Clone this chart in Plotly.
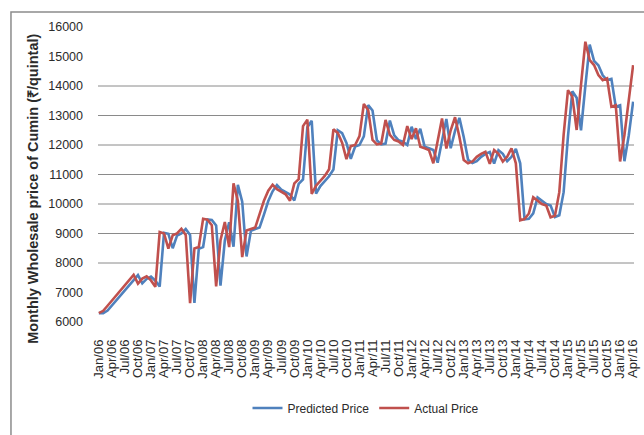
import plotly.graph_objects as go

# ---------------- data ----------------
MONTH_ABBR = ["Jan", "Feb", "Mar", "Apr", "May", "Jun",
              "Jul", "Aug", "Sep", "Oct", "Nov", "Dec"]
YEARS = list(range(6, 17))
MONTHS = [f"{m}/{y:02d}" for y in YEARS for m in MONTH_ABBR][:124]
TICK_LABELS = [lab for lab in MONTHS if lab.split("/")[0] in ("Jan", "Apr", "Jul", "Oct")]

ACTUAL_PRICE = [
    6300, 6380, 6550, 6720, 6900, 7080, 7250, 7420, 7600, 7300, 7470, 7550,        # 2006
    7410, 7190, 9050, 9000, 8490, 8940, 9000, 9160, 8950, 6640, 8490, 8540,        # 2007
    9500, 9470, 9280, 7210, 8770, 9390, 8540, 10700, 10100, 8200, 9100, 9150,      # 2008
    9200, 9660, 10110, 10450, 10650, 10500, 10400, 10330, 10110, 10700, 10840, 12640,  # 2009
    12860, 10340, 10620, 10790, 10950, 11180, 12530, 12410, 12080, 11520, 11960, 12000,  # 2010
    12300, 13390, 13190, 12170, 12020, 12050, 12850, 12340, 12170, 12120, 12000, 12640,  # 2011
    12200, 12570, 11940, 11890, 11830, 11380, 12200, 12900, 11880, 12500, 12940, 12280,  # 2012
    11490, 11380, 11440, 11600, 11700, 11770, 11360, 11830, 11700, 11440, 11600, 11890,  # 2013
    11380, 9450, 9490, 9680, 10230, 10110, 10000, 9950, 9550, 9600, 10400, 12340,  # 2014
    13860, 13640, 12510, 14040, 15500, 14880, 14710, 14370, 14200, 14260, 13300, 13350,  # 2015
    11440, 12340, 13530, 14710,                                                    # 2016
]

PREDICTED_PRICE = [
    6300, 6300, 6390, 6560, 6730, 6910, 7090, 7260, 7430, 7590, 7310, 7460,        # 2006
    7540, 7400, 7200, 9020, 8990, 8500, 8930, 9000, 9150, 8950, 6650, 8480,        # 2007
    8540, 9480, 9460, 9270, 7230, 8760, 9380, 8550, 10650, 10080, 8220, 9090,      # 2008
    9150, 9200, 9640, 10100, 10430, 10640, 10490, 10390, 10320, 10120, 10680, 10830,  # 2009
    12600, 12820, 10350, 10610, 10780, 10940, 11170, 12500, 12400, 12070, 11530, 11950,  # 2010
    12000, 12290, 13350, 13170, 12160, 12020, 12050, 12830, 12330, 12160, 12110, 12000,  # 2011
    12620, 12200, 12550, 11940, 11890, 11830, 11400, 12190, 12880, 11890, 12480, 12920,  # 2012
    12270, 11500, 11390, 11450, 11600, 11700, 11760, 11370, 11820, 11700, 11450, 11600,  # 2013
    11870, 11380, 9480, 9500, 9680, 10220, 10100, 10000, 9950, 9560, 9620, 10400,  # 2014
    12300, 13820, 13600, 12500, 14000, 15400, 14850, 14700, 14360, 14200, 14240, 13300,  # 2015
    13350, 11450, 12330, 13470,                                                    # 2016
]

Y_TICKS = [6000, 7000, 8000, 9000, 10000, 11000, 12000, 13000, 14000, 15000, 16000]
GRID_VALUES = [8000, 9000, 10000, 11000, 12000, 13000, 14000]

# ---------------- figure ----------------
W, H = 644, 435
L, R, T, B = 98, 4, 27, 113
pw, ph = W - L - R, H - T - B

def px_x(x):
    return (x - L) / pw

def px_y(y):
    return (H - B - y) / ph

BLUE = "#4F81BD"
RED = "#C0504D"
TXT = "#2b2b2b"

fig = go.Figure()
fig.add_trace(go.Scatter(x=MONTHS, y=PREDICTED_PRICE, mode="lines",
                         name="Predicted Price", line=dict(color=BLUE, width=2.6)))
fig.add_trace(go.Scatter(x=MONTHS, y=ACTUAL_PRICE, mode="lines",
                         name="Actual Price", line=dict(color=RED, width=2.6)))

shapes = []
for g in GRID_VALUES:
    shapes.append(dict(type="line", xref="paper", yref="y", x0=0, x1=1, y0=g, y1=g,
                       line=dict(color="#8a8a8a", width=1), layer="below"))
# outer chart frame (left and top edges visible)
shapes.append(dict(type="rect", xref="paper", yref="paper",
                   x0=px_x(10), x1=px_x(660), y0=px_y(440), y1=px_y(12),
                   line=dict(color="#8c8c8c", width=1.5), layer="below"))

fig.update_layout(
    width=W, height=H,
    margin=dict(l=L, r=R, t=T, b=B, pad=0),
    paper_bgcolor="white", plot_bgcolor="white",
    font=dict(family="Liberation Sans, Arial, sans-serif", color=TXT),
    showlegend=True,
    legend=dict(orientation="h", x=0.5, xanchor="center", y=px_y(408), yanchor="middle",
                font=dict(size=12, color=TXT), bgcolor="rgba(0,0,0,0)",
                itemwidth=30, tracegroupgap=0),
    shapes=shapes,
    annotations=[dict(text="<b>Monthly Wholesale price of Cumin (₹/quintal)</b>",
                      xref="paper", yref="paper", x=px_x(32), y=px_y(189),
                      textangle=-90, showarrow=False, xanchor="center", yanchor="middle",
                      font=dict(size=14.5, color=TXT))],
)

fig.update_xaxes(type="category", range=[-0.2, 123.2],
                 tickmode="array", tickvals=TICK_LABELS, ticktext=TICK_LABELS,
                 tickangle=-90, tickfont=dict(size=13, color=TXT),
                 showgrid=False, zeroline=False, showline=False, ticks="",
                 ticklabelstandoff=14)
fig.update_yaxes(range=[6000, 16000], tickvals=Y_TICKS, tickformat="d",
                 tickfont=dict(size=12.5, color=TXT),
                 showgrid=False, zeroline=False, showline=False, ticks="",
                 ticklabelstandoff=14)

fig.write_html("out.html")
